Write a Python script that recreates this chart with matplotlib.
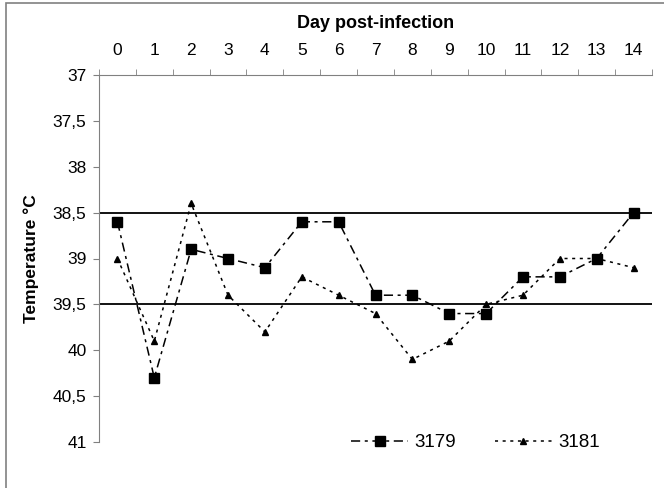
import numpy as np
import matplotlib.pyplot as plt
from matplotlib.patches import Rectangle

plt.rcParams['font.family'] = ['Liberation Sans', 'DejaVu Sans']

days = list(range(15))
day_labels = [str(d) for d in days]
temp_3179 = [38.6, 40.3, 38.9, 39.0, 39.1, 38.6, 38.6, 39.4, 39.4, 39.6, 39.6, 39.2, 39.2, 39.0, 38.5]
temp_3181 = [39.0, 39.9, 38.4, 39.4, 39.8, 39.2, 39.4, 39.6, 40.1, 39.9, 39.5, 39.4, 39.0, 39.0, 39.1]
ref_lines = [38.5, 39.5]
y_ticks = [37, 37.5, 38, 38.5, 39, 39.5, 40, 40.5, 41]
y_labels = ['37', '37,5', '38', '38,5', '39', '39,5', '40', '40,5', '41']

fig = plt.figure(figsize=(6.64, 4.88), dpi=100)
ax = fig.add_axes([99/664, 1-442/488, 553/664, 367/488])

# chart border (left and top visible)
fig.patches.append(Rectangle((6/664, -0.1), 1.2, (488-3)/488 + 0.1, transform=fig.transFigure,
                             fill=False, edgecolor='#808080', linewidth=1.2))

x = np.array(days)
for v in ref_lines:
    ax.axhline(v, color='black', linewidth=1.3)

ax.plot(x, temp_3179, color='black', linestyle=(0, (6, 3, 2, 3)), linewidth=1.1,
        marker='s', markersize=7.5, label='3179')
ax.plot(x, temp_3181, color='black', linestyle=(0, (2, 3)), linewidth=1.1,
        marker='^', markersize=5, label='3181')

ax.set_xlim(-0.5, 14.5)
ax.set_ylim(41, 37)
ax.set_yticks(y_ticks)
ax.set_yticklabels(y_labels, fontsize=12.5)

ax.xaxis.tick_top()
ax.xaxis.set_label_position('top')
ax.set_xticks(x)
ax.set_xticklabels(day_labels, fontsize=12.5)
ax.set_xticks(np.arange(-0.5, 15, 1), minor=True)
ax.tick_params(axis='x', which='major', length=0, pad=12)
ax.tick_params(axis='x', which='minor', length=4, color='#808080', direction='out')
ax.tick_params(axis='y', length=4, color='#808080', pad=5)

for s in ['right', 'bottom']:
    ax.spines[s].set_visible(False)
for s in ['left', 'top']:
    ax.spines[s].set_color('#808080')

ax.set_xlabel('Day post-infection', fontsize=13, fontweight='bold', labelpad=11)
ax.set_ylabel('Temperature °C', fontsize=12.5, fontweight='bold', labelpad=10)

ax.legend(loc='center', bbox_to_anchor=(0.681, -0.002), ncol=2, frameon=False, fontsize=13.5,
          handlelength=3.0, columnspacing=2.1, handletextpad=0.35)

fig.savefig('out.png', dpi=100)
